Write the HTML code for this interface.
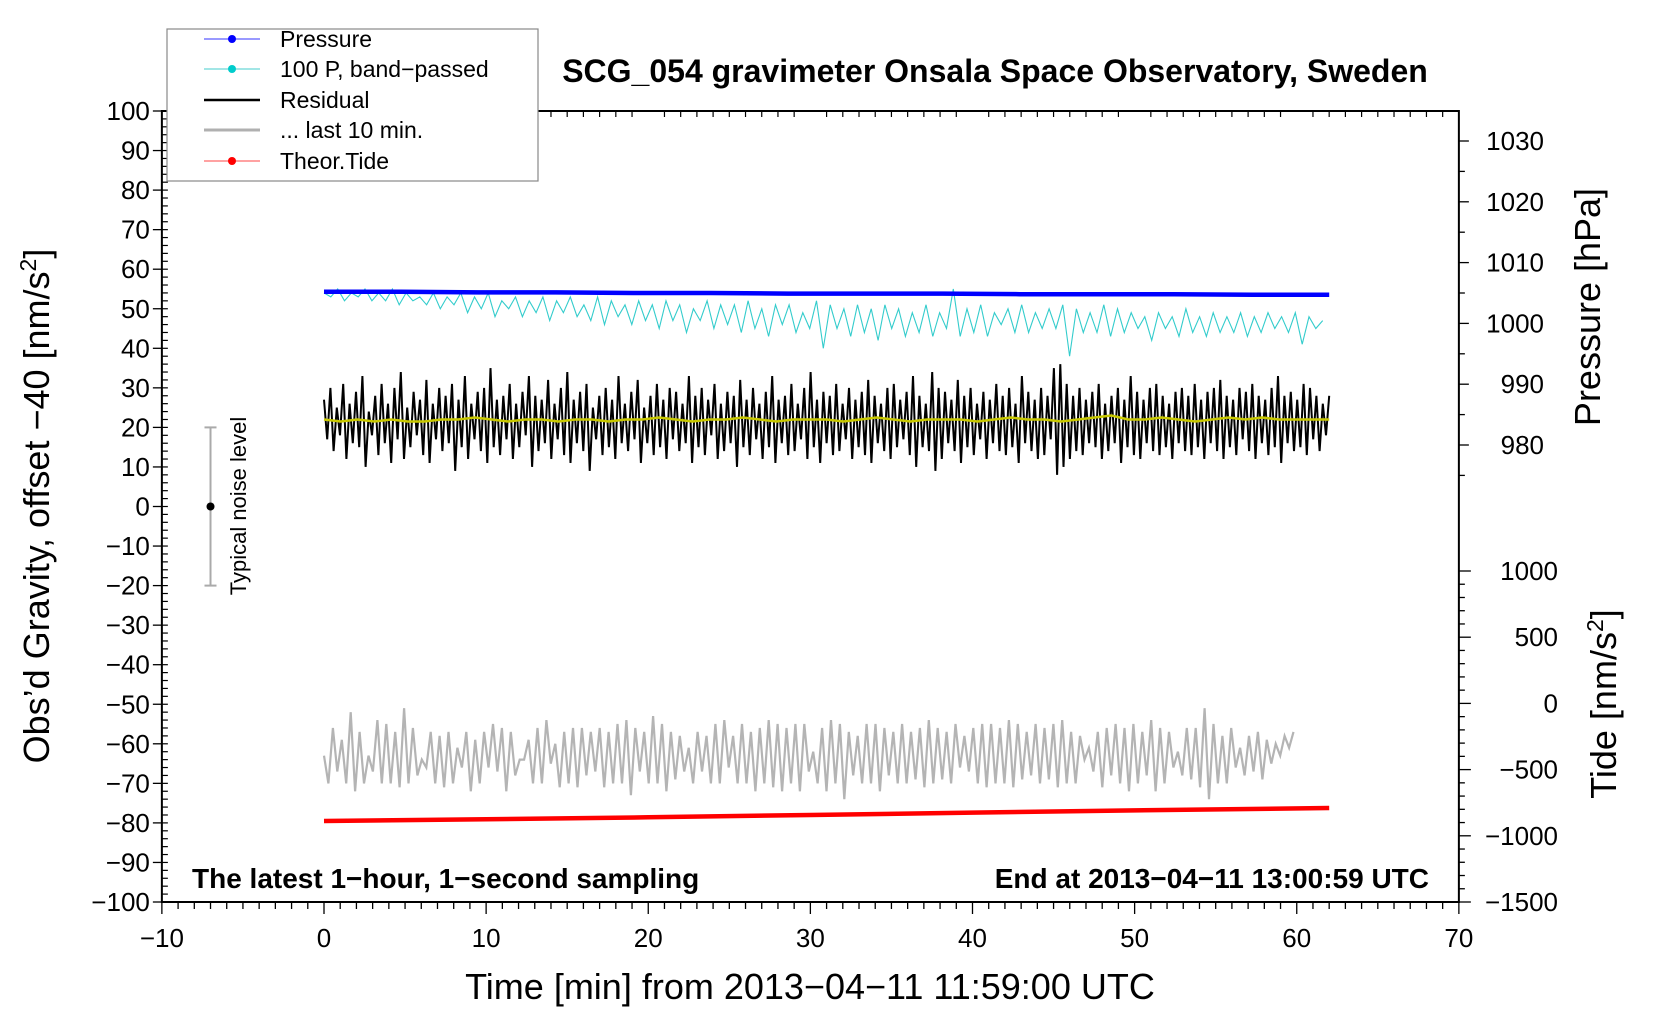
<!DOCTYPE html>
<html><head><meta charset="utf-8"><style>
html,body{margin:0;padding:0;background:#fff}
svg{display:block}
text{font-family:"Liberation Sans",Helvetica,Arial,sans-serif;fill:#000}
</style></head><body>
<svg id="chart" width="1660" height="1020" viewBox="0 0 1660 1020" xmlns="http://www.w3.org/2000/svg">
<g id="axes"></g>
<g id="series"></g>
<text x="995" y="82" font-size="32" font-weight="bold" text-anchor="middle">SCG_054 gravimeter Onsala Space Observatory, Sweden</text>
<text x="192" y="888" font-size="28" font-weight="bold">The latest 1−hour, 1−second sampling</text>
<text x="1429" y="888" font-size="28" font-weight="bold" text-anchor="end">End at 2013−04−11 13:00:59 UTC</text>
<text x="810" y="999" font-size="36" text-anchor="middle">Time [min] from 2013−04−11 11:59:00 UTC</text>
<text transform="translate(49,506) rotate(-90)" font-size="36" text-anchor="middle">Obs’d Gravity, offset −40 [nm/s<tspan font-size="23" dy="-13">2</tspan><tspan dy="13">]</tspan></text>
<text transform="translate(1600,307) rotate(-90)" font-size="36" text-anchor="middle">Pressure [hPa]</text>
<text transform="translate(1616,704) rotate(-90)" font-size="36" text-anchor="middle">Tide [nm/s<tspan font-size="23" dy="-13">2</tspan><tspan dy="13">]</tspan></text>
<g>
<text transform="translate(246,506) rotate(-90)" font-size="22" text-anchor="middle">Typical noise level</text>
</g>
<g>
<rect x="167" y="29" width="371" height="152" fill="#fff" stroke="#888" stroke-width="1.2"/>
<g><line x1="204" y1="39" x2="260" y2="39" stroke="#33f" stroke-width="1"/><circle cx="232" cy="39" r="4" fill="#00f"/><text x="280" y="47" font-size="23">Pressure</text></g>
<g><line x1="204" y1="69" x2="260" y2="69" stroke="#4cc" stroke-width="1"/><circle cx="232" cy="69" r="4" fill="#0cc"/><text x="280" y="77" font-size="23">100 P, band−passed</text></g>
<g><line x1="204" y1="100" x2="260" y2="100" stroke="#000" stroke-width="2.5"/><text x="280" y="108" font-size="23">Residual</text></g>
<g><line x1="204" y1="130" x2="260" y2="130" stroke="#b0b0b0" stroke-width="3"/><text x="280" y="138" font-size="23">... last 10 min.</text></g>
<g><line x1="204" y1="161" x2="260" y2="161" stroke="#f44" stroke-width="1"/><circle cx="232" cy="161" r="4" fill="#f00"/><text x="280" y="169" font-size="23">Theor.Tide</text></g>
</g>
</svg>
<script>
const xTicks=[-10,0,10,20,30,40,50,60,70];
const yTicks=[100,90,80,70,60,50,40,30,20,10,0,-10,-20,-30,-40,-50,-60,-70,-80,-90,-100];
const pTicks=[1030,1020,1010,1000,990,980];
const tideTicks=[1000,500,0,-500,-1000,-1500];
const pressure=[1005.2,1005.2,1005.1,1005.1,1005.0,1005.0,1004.9,1004.9,1004.9,1004.8,1004.8,1004.8,1004.7,1004.7];
const bandPassed=[54,53,55,52,54,53,55,52,54,52,55,51,54,52,53,51,54,50,53,51,54,49,53,50,54,48,52,50,53,48,52,49,53,47,52,49,53,48,51,47,53,46,52,48,51,46,52,47,51,45,52,47,51,44,50,47,52,45,51,46,51,44,52,45,50,43,51,46,51,44,49,45,52,40,51,45,50,43,51,44,50,42,51,45,50,43,49,44,51,43,49,45,55,43,50,44,51,43,49,46,50,44,51,44,49,45,50,45,51,38,50,44,49,44,51,43,50,44,49,45,48,42,49,45,48,43,50,44,48,43,49,44,48,44,49,43,48,44,49,45,48,44,49,41,48,45,47];
const residual=[27,17,30,14,25,18,31,12,26,16,29,15,33,10,24,18,28,13,31,16,26,11,30,17,34,12,25,15,29,18,27,13,32,11,26,17,30,14,28,16,31,9,27,15,33,12,26,17,29,14,30,11,35,15,27,13,28,17,31,12,26,15,29,18,33,10,28,14,27,16,32,12,26,17,30,13,34,11,27,16,29,14,31,9,25,17,28,13,30,15,27,12,33,16,26,14,29,17,32,11,25,16,28,13,31,15,27,12,30,17,29,14,26,16,33,11,28,15,30,13,27,18,31,12,26,14,29,16,28,10,32,15,27,13,30,17,26,12,29,15,33,11,27,16,28,13,31,14,26,17,30,12,34,15,27,11,29,16,28,13,31,14,26,17,30,12,27,15,29,13,32,11,28,16,26,14,30,12,31,15,27,17,29,13,33,10,28,15,26,14,34,9,30,12,29,16,27,14,32,11,28,15,30,13,26,17,29,12,27,16,31,14,28,13,30,15,26,11,33,16,29,14,27,12,30,13,28,17,35,8,36,10,31,12,28,14,30,13,27,16,29,15,31,12,26,14,28,16,30,11,27,15,33,13,29,12,27,16,30,14,31,13,28,15,26,12,29,16,30,14,28,13,31,15,27,12,29,16,30,14,32,12,28,15,27,13,30,17,29,14,31,12,28,16,27,13,30,15,33,11,28,16,29,14,27,15,31,13,30,17,28,14,26,18,28];
const smooth=[22,21.5,22,21.5,22,21.5,21.5,22,22,22.5,22,21.5,22,22,21.5,22,22,21.5,22,22,22.5,22,21.5,22,22,22.5,22,21.5,22,22,22,21.5,22,22.5,22,21.5,22,22,22,21.5,22,22.5,22,22,21.5,22,22.5,23,22,22,22.5,22,21.5,22,22.5,22,22.5,22,22,22,22];
const lastTen=[-63,-70,-56,-67,-59,-70,-52,-72,-57,-70,-63,-67,-54,-70,-55,-70,-57,-71,-51,-70,-56,-68,-64,-66,-57,-70,-58,-71,-57,-70,-61,-66,-57,-72,-59,-70,-57,-66,-55,-67,-56,-72,-57,-68,-64,-64,-59,-70,-56,-70,-54,-65,-60,-71,-57,-70,-56,-71,-56,-68,-57,-67,-56,-71,-57,-70,-55,-70,-54,-73,-56,-67,-57,-70,-53,-70,-55,-72,-57,-69,-58,-67,-61,-70,-57,-67,-58,-70,-55,-70,-54,-66,-58,-70,-55,-70,-57,-72,-56,-70,-54,-71,-55,-72,-56,-70,-55,-72,-55,-67,-62,-70,-56,-72,-54,-70,-55,-74,-57,-68,-58,-70,-55,-70,-55,-72,-56,-68,-57,-70,-55,-70,-57,-69,-56,-71,-54,-70,-56,-69,-57,-70,-55,-66,-58,-67,-56,-70,-55,-71,-55,-70,-56,-70,-54,-71,-55,-69,-57,-68,-55,-70,-56,-69,-55,-71,-54,-70,-57,-70,-58,-64,-61,-67,-57,-71,-56,-68,-55,-70,-56,-72,-55,-70,-57,-68,-54,-72,-56,-70,-57,-66,-62,-68,-56,-69,-56,-71,-51,-74,-55,-70,-58,-70,-56,-66,-61,-68,-58,-67,-57,-69,-59,-65,-60,-63,-58,-61,-57];
const tideTimes=[0,10,20,30,40,50,62];
const tide=[-888,-875,-860,-843,-825,-808,-790];

const NS='http://www.w3.org/2000/svg';
const X=v=>324+(v-0)*16.2125;
const Y=v=>111+(100-v)*3.955;
const YP=p=>141+(1030-p)*6.08;
const YT=t=>571+(1000-t)*0.1324;
const axes=document.getElementById('axes'), series=document.getElementById('series');
function mk(tag,attrs,parent){const e=document.createElementNS(NS,tag);for(const k in attrs)e.setAttribute(k,attrs[k]);parent.appendChild(e);return e;}
function lineEl(x1,y1,x2,y2,w,parent){return mk('line',{x1,y1,x2,y2,stroke:'#000','stroke-width':w},parent);}

const L=X(-10),R=X(70),T=Y(100),B=Y(-100);
const frame=mk('rect',{x:L,y:T,width:R-L,height:B-T,fill:'none',stroke:'#000','stroke-width':2},axes);


for(let v=-10;v<=70;v++){const x=X(v);const major=v%10===0;
 lineEl(x,B,x,B+(major?12:7),1.3,axes);
 lineEl(x,T,x,T+(major?0:6),1.2,axes);}
xTicks.forEach(v=>{const t=mk('text',{x:X(v),y:947,'font-size':26,'text-anchor':'middle'},axes);t.textContent=String(v).replace('-','−');
 
 });
for(let v=-100;v<=100;v+=2){const y=Y(v);lineEl(L,y,L+6,y,1.2,axes);}
yTicks.forEach(v=>{const y=Y(v);lineEl(L-9,y,L,y,1.3,axes);
 const t=mk('text',{x:L-12,y:y+9,'font-size':26,'text-anchor':'end'},axes);t.textContent=String(v).replace('-','−');
 
 });
for(let p=1035;p>=975;p-=5){const y=YP(p);if(y>T&&y<B)lineEl(R,y,R+(p%10===0?10:6),y,1.3,axes);}
pTicks.forEach(p=>{const t=mk('text',{x:1544,y:YP(p)+9,'font-size':26,'text-anchor':'end'},axes);t.textContent=p;
 
 });
for(let v=1000;v>=-1500;v-=100){const y=YT(v);lineEl(R,y,R+(v%500===0?12:6),y,1.3,axes);}
tideTicks.forEach(v=>{const t=mk('text',{x:1558,y:YT(v)+9,'font-size':26,'text-anchor':'end'},axes);t.textContent=String(v).replace('-','−');
 
 });

const nb=mk('line',{x1:X(-7),y1:Y(20),x2:X(-7),y2:Y(-20),stroke:'#aaa','stroke-width':2},series);


[20,-20].forEach(v=>mk('line',{x1:X(-7)-6,y1:Y(v),x2:X(-7)+6,y2:Y(v),stroke:'#aaa','stroke-width':2},series));
mk('circle',{cx:X(-7),cy:Y(0),r:4,fill:'#000'},series);

function path(vals,x0,x1,yf,attrs,name){
 const n=vals.length;let d='';
 vals.forEach((v,i)=>{const x=X(x0+(x1-x0)*i/(n-1));d+=(i?'L':'M')+x.toFixed(1)+','+yf(v).toFixed(1);});
 const p=mk('path',Object.assign({d,fill:'none'},attrs),series);
 
 
 return p;}
path(lastTen,0,59.8,Y,{stroke:'#b4b4b4','stroke-width':2.2},'last-10-min-line');
path(residual,0,62,Y,{stroke:'#000','stroke-width':2},'residual-line');
path(smooth,0,62,Y,{stroke:'#c8c800','stroke-width':2.5},'residual-smoothed-line');
path(bandPassed,0,61.6,Y,{stroke:'#33cccc','stroke-width':1.1},'band-passed-line');
path(pressure,0,62,YP,{stroke:'#0000ff','stroke-width':4.5},'pressure-line');
{let d='';tide.forEach((v,i)=>{d+=(i?'L':'M')+X(tideTimes[i]).toFixed(1)+','+YT(v).toFixed(1);});
 const p=mk('path',{d,fill:'none',stroke:'#ff0000','stroke-width':4.5},series);
 
 }
</script>
</body></html>
